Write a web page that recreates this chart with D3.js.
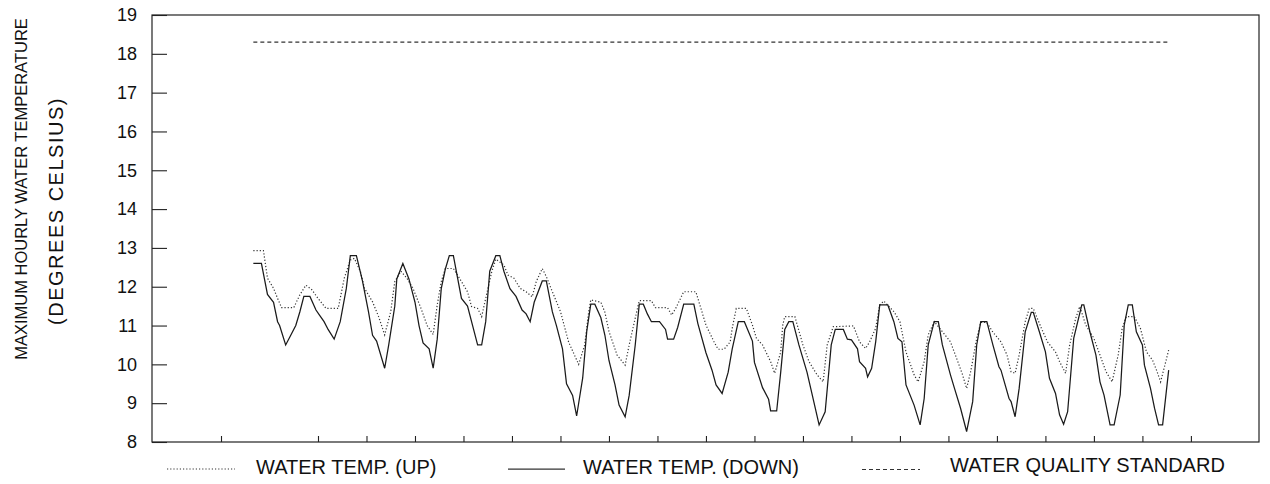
<!DOCTYPE html>
<html>
<head>
<meta charset="utf-8">
<script src="https://cdn.jsdelivr.net/npm/d3@7"></script>
<style>
  html, body { margin: 0; padding: 0; background: #fff; }
  svg { display: block; font-family: "Liberation Sans", Arial, sans-serif; }
</style>
</head>
<body>
<svg id="chart" width="1270" height="484"></svg>
<script>
// ---- data (hours from the first x tick, temperature in °C) ----
const yTickValues = [8, 9, 10, 11, 12, 13, 14, 15, 16, 17, 18, 19];
const xTickHours = [0, 48, 72, 96, 120, 144, 168, 192, 216, 240, 264, 288, 312, 336, 360, 384, 408, 432, 456, 480];

const waterTempUp = [
  [16,12.93],[21,12.93],[23,12.22],[26,11.96],[28,11.7],[30,11.46],[36,11.46],[39,11.79],[42,12.04],[45,11.92],
  [48,11.7],[52,11.44],[58,11.44],[61,12.22],[64,12.69],[66,12.73],[69,12.39],[71,11.96],[75,11.61],[78,11.23],
  [81,10.76],[84,11.36],[86,12.13],[89,12.4],[92,12.22],[95,11.96],[99,11.44],[102,11.0],[105,10.77],[107,11.53],
  [109,12.13],[111,12.47],[115,12.47],[118,12.22],[122,11.87],[124,11.49],[127,11.44],[129,11.23],[131,11.7],[134,12.39],
  [136,12.71],[140,12.56],[142,12.3],[145,12.22],[148,11.96],[151,11.87],[154,11.74],[156,12.13],[159,12.47],[161,12.26],
  [164,11.87],[168,11.36],[172,10.58],[177,10.0],[180,10.5],[182,11.36],[183,11.66],[188,11.6],[190,11.34],[192,10.85],
  [196,10.24],[200,9.98],[202,10.5],[205,11.19],[207,11.64],[213,11.64],[215,11.46],[221,11.46],[223,11.27],[225,11.44],
  [229,11.87],[235,11.87],[237,11.53],[240,11.01],[244,10.58],[246,10.39],[249,10.39],[252,10.58],[253,10.93],[255,11.44],
  [260,11.44],[263,11.01],[265,10.67],[268,10.5],[272,10.07],[274,9.77],[277,10.32],[278,11.01],[279,11.23],[284,11.23],
  [288,10.5],[291,10.07],[295,9.73],[298,9.55],[300,10.5],[303,10.97],[313,10.99],[316,10.58],[319,10.41],[321,10.58],
  [324,10.93],[326,11.53],[328,11.63],[333,11.36],[336,11.1],[339,10.32],[343,9.73],[345,9.55],[348,10.07],[350,10.76],
  [353,11.1],[357,10.84],[361,10.58],[364,10.16],[367,9.73],[369,9.38],[371,9.81],[374,10.67],[376,11.08],[379,11.08],
  [382,10.83],[386,10.58],[389,10.24],[391,9.81],[393,9.77],[395,10.24],[398,11.1],[400,11.44],[402,11.44],[406,10.93],
  [409,10.58],[413,10.32],[415,10.07],[418,9.77],[420,10.5],[423,11.19],[425,11.49],[428,11.01],[432,10.67],[435,10.24],
  [438,9.81],[441,9.55],[444,10.24],[446,10.93],[448,11.23],[452,11.23],[455,10.93],[458,10.32],[461,10.11],[463,9.85],
  [465,9.55],[468,10.16],[469,10.37]
];

const waterTempDown = [
  [16,12.6],[20,12.6],[23,11.8],[26,11.6],[28,11.1],[29,11.0],[32,10.5],[34,10.7],[37,11.0],[39,11.35],
  [41,11.75],[44,11.75],[47,11.4],[49,11.25],[51,11.1],[53,10.9],[56,10.65],[59,11.1],[62,11.95],[64,12.8],
  [67,12.8],[70,12.15],[73,11.35],[75,10.75],[77,10.6],[81,9.9],[83,10.5],[86,11.5],[87,12.2],[90,12.6],
  [93,12.2],[96,11.6],[98,11.0],[100,10.55],[103,10.4],[105,9.9],[107,10.65],[109,11.95],[111,12.45],[113,12.8],
  [115,12.8],[117,12.25],[119,11.7],[122,11.5],[125,10.9],[127,10.5],[129,10.5],[131,11.1],[133,12.4],[136,12.8],
  [138,12.8],[140,12.4],[143,11.95],[146,11.75],[149,11.4],[151,11.3],[153,11.1],[155,11.6],[159,12.15],[161,12.15],
  [164,11.35],[166,11.0],[169,10.4],[171,9.5],[174,9.2],[176,8.67],[179,9.65],[181,10.85],[183,11.55],[185,11.55],
  [188,11.2],[190,10.75],[192,10.1],[195,9.47],[197,8.95],[200,8.65],[202,9.2],[205,10.5],[207,11.55],[209,11.55],
  [211,11.3],[213,11.1],[217,11.1],[220,10.9],[221,10.65],[224,10.65],[226,10.95],[229,11.55],[234,11.55],[236,11.05],
  [240,10.3],[243,9.85],[245,9.47],[248,9.25],[251,9.8],[253,10.4],[256,11.1],[259,11.1],[263,10.6],[264,10.05],
  [268,9.4],[271,9.1],[272,8.8],[275,8.8],[277,9.8],[279,10.9],[281,11.1],[283,11.1],[286,10.5],[290,9.8],
  [292,9.35],[296,8.44],[299,8.78],[302,10.5],[304,10.9],[308,10.9],[310,10.65],[312,10.63],[315,10.4],[316,10.07],
  [319,9.9],[320,9.68],[322,9.9],[324,10.58],[326,11.53],[330,11.53],[333,11.1],[335,10.67],[337,10.58],[339,9.47],
  [343,8.95],[346,8.44],[348,9.12],[350,10.5],[353,11.1],[355,11.1],[357,10.5],[361,9.73],[363,9.38],[366,8.87],
  [369,8.27],[372,9.04],[374,10.5],[376,11.1],[379,11.1],[382,10.5],[385,9.94],[386,9.85],[390,9.12],[391,9.04],
  [393,8.65],[395,9.38],[398,10.84],[401,11.34],[402,11.34],[405,10.84],[408,10.32],[410,9.64],[413,9.25],[415,8.7],
  [417,8.46],[419,8.78],[422,10.67],[426,11.53],[427,11.53],[430,10.84],[433,10.24],[435,9.55],[437,9.21],[440,8.44],
  [442,8.44],[445,9.21],[447,11.01],[449,11.53],[451,11.53],[453,10.84],[456,10.5],[457,9.98],[460,9.38],[462,8.87],
  [464,8.44],[466,8.44],[469,9.85]
];

const waterQualityStandard = [[16, 18.3], [469, 18.3]];

const legendLabels = ["WATER TEMP. (UP)", "WATER TEMP. (DOWN)", "WATER QUALITY STANDARD"];
const yTitleLines = ["MAXIMUM HOURLY WATER TEMPERATURE", "(DEGREES CELSIUS)"];

// ---- drawing ----
const svg = d3.select("#chart");
const plot = { left: 152, right: 1259, top: 15, bottom: 442 };
const ink = "#222";

const x = d3.scaleLinear().domain([-34.15, 513.7]).range([plot.left, plot.right]);
const y = d3.scaleLinear().domain([8, 19]).range([plot.bottom, plot.top]);

// frame
svg.append("rect")
  .attr("x", plot.left).attr("y", plot.top)
  .attr("width", plot.right - plot.left).attr("height", plot.bottom - plot.top)
  .attr("fill", "none").attr("stroke", ink).attr("stroke-width", 1.2);

// y axis (inward ticks)
const yAxis = svg.append("g")
  .attr("transform", `translate(${plot.left},0)`)
  .call(d3.axisLeft(y).tickValues(yTickValues).tickFormat(d3.format("d"))
    .tickSizeInner(-15).tickSizeOuter(0).tickPadding(15));
yAxis.select(".domain").remove();
yAxis.selectAll(".tick line").attr("stroke", ink).attr("stroke-width", 1.1);
yAxis.selectAll(".tick text")
  .attr("fill", "#111")
  .style("font-family", '"Liberation Sans", Arial, sans-serif')
  .style("font-size", "18px");

// x axis (inward ticks, no labels)
const xAxis = svg.append("g")
  .attr("transform", `translate(0,${plot.bottom})`)
  .call(d3.axisBottom(x).tickValues(xTickHours).tickFormat("")
    .tickSizeInner(-6).tickSizeOuter(0));
xAxis.select(".domain").remove();
xAxis.selectAll(".tick line").attr("stroke", ink).attr("stroke-width", 1.1);

// lines
const line = d3.line().x(d => x(d[0])).y(d => y(d[1]));

svg.append("path").datum(waterQualityStandard)
  .attr("d", line).attr("fill", "none")
  .attr("stroke", "#333").attr("stroke-width", 1.1).attr("stroke-dasharray", "4,3");

svg.append("path").datum(waterTempUp)
  .attr("d", line).attr("fill", "none")
  .attr("stroke", "#333").attr("stroke-width", 1.2).attr("stroke-dasharray", "1.2,2");

svg.append("path").datum(waterTempDown)
  .attr("d", line).attr("fill", "none")
  .attr("stroke", "#1a1a1a").attr("stroke-width", 1.25);

// y title
const titleSpec = [
  { cx: 27, cy: 189, size: 16.5, spacing: 0 },
  { cx: 63, cy: 211, size: 20, spacing: 1.5 }
];
yTitleLines.forEach((t, i) => {
  const s = titleSpec[i];
  svg.append("text")
    .attr("transform", `translate(${s.cx},${s.cy}) rotate(-90)`)
    .attr("text-anchor", "middle")
    .attr("fill", "#111")
    .style("font-size", s.size + "px")
    .style("letter-spacing", s.spacing + "px")
    .text(t);
});

// legend
const legendSpec = [
  { x1: 167, x2: 235, ly: 469, tx: 256, ty: 473.5, dash: "1.2,2", w: 1.2 },
  { x1: 508, x2: 565, ly: 469, tx: 583, ty: 473.5, dash: null, w: 1.25 },
  { x1: 862, x2: 920, ly: 469.5, tx: 950, ty: 472, dash: "4,3", w: 1.1 }
];
legendLabels.forEach((lab, i) => {
  const s = legendSpec[i];
  const l = svg.append("line")
    .attr("x1", s.x1).attr("x2", s.x2).attr("y1", s.ly).attr("y2", s.ly)
    .attr("stroke", "#333").attr("stroke-width", s.w);
  if (s.dash) l.attr("stroke-dasharray", s.dash);
  svg.append("text")
    .attr("x", s.tx).attr("y", s.ty)
    .attr("fill", "#111")
    .style("font-size", "20px")
    .text(lab);
});
</script>
</body>
</html>
